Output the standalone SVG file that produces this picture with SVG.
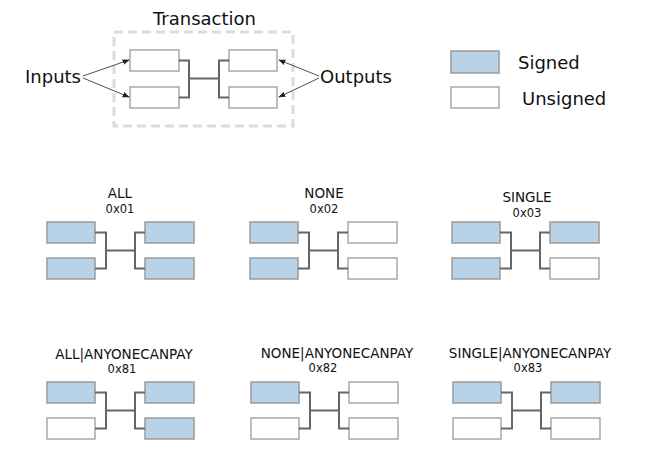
<svg xmlns="http://www.w3.org/2000/svg" width="651" height="455" viewBox="0 0 651 455">
<defs>
<style>
text{font-family:"DejaVu Sans","Verdana",sans-serif;fill:#111}
.big{font-size:18px}
.t{font-size:13.5px;text-anchor:middle}
.h{font-size:11.5px;text-anchor:middle}
.s{fill:#b8d3e8;stroke:#9a9a9a;stroke-width:1.5}
.u{fill:#fff;stroke:#a8a8a8;stroke-width:1.5}
.c{fill:none;stroke:#666;stroke-width:2}
.a{fill:none;stroke:#222;stroke-width:0.8;marker-end:url(#ah)}
</style>
<marker id="ah" viewBox="0 0 10 10" refX="9" refY="5" markerWidth="7" markerHeight="7" orient="auto" markerUnits="userSpaceOnUse">
<path d="M0,1 L10,5 L0,9 z" fill="#222"/>
</marker>
<path id="br" d="M95,232.5 H106 V268.5 H95 M106,250.5 H135 M145,232.5 H135 V268.5 H145" class="c"/>
</defs>
<rect width="651" height="455" fill="#fff"/>

<g id="transaction">
<text class="big" x="153" y="25">Transaction</text>
<rect x="114" y="32" width="179" height="94" fill="none" stroke="#dcdcdc" stroke-width="3" stroke-dasharray="9,5"/>
<rect class="u" x="130" y="50" width="49" height="21"/>
<rect class="u" x="130" y="87" width="49" height="21"/>
<rect class="u" x="229" y="50" width="48" height="21"/>
<rect class="u" x="229" y="87" width="48" height="21"/>
</g>
<g id="inputs"><text class="big" x="25" y="83">Inputs</text></g>
<g id="outputs"><text class="big" x="320" y="83">Outputs</text></g>
<g id="legend">
<rect class="s" x="451" y="51" width="48" height="22"/>
<rect class="u" x="451" y="87" width="48" height="21"/>
<text class="big" x="518" y="69">Signed</text>
<text class="big" x="522" y="105">Unsigned</text>
</g>

<g id="p-all">
<text class="t" x="120" y="198">ALL</text>
<text class="h" x="120" y="213">0x01</text>
<rect class="s" x="47" y="222" width="48" height="21"/>
<rect class="s" x="47" y="258" width="48" height="21"/>
<rect class="s" x="145" y="222" width="49" height="21"/>
<rect class="s" x="145" y="258" width="49" height="21"/>
</g>
<g id="p-none" transform="translate(203,0)">
<text class="t" x="121" y="198">NONE</text>
<text class="h" x="121" y="213">0x02</text>
<rect class="s" x="47" y="222" width="48" height="21"/>
<rect class="s" x="47" y="258" width="48" height="21"/>
<rect class="u" x="145" y="222" width="49" height="21"/>
<rect class="u" x="145" y="258" width="49" height="21"/>
</g>
<g id="p-single" transform="translate(405,0)">
<text class="t" x="122" y="202">SINGLE</text>
<text class="h" x="122" y="217">0x03</text>
<rect class="s" x="47" y="222" width="48" height="21"/>
<rect class="s" x="47" y="258" width="48" height="21"/>
<rect class="s" x="145" y="222" width="49" height="21"/>
<rect class="u" x="145" y="258" width="49" height="21"/>
</g>
<g id="p-all-acp" transform="translate(0,160)">
<text class="t" x="124" y="199">ALL|ANYONECANPAY</text>
<text class="h" x="122" y="213">0x81</text>
<rect class="s" x="47" y="222" width="48" height="21"/>
<rect class="u" x="47" y="258" width="48" height="21"/>
<rect class="s" x="145" y="222" width="49" height="21"/>
<rect class="s" x="145" y="258" width="49" height="21"/>
</g>
<g id="p-none-acp" transform="translate(204,160)">
<text class="t" x="133" y="198">NONE|ANYONECANPAY</text>
<text class="h" x="119" y="212">0x82</text>
<rect class="s" x="47" y="222" width="48" height="21"/>
<rect class="u" x="47" y="258" width="48" height="21"/>
<rect class="u" x="145" y="222" width="49" height="21"/>
<rect class="u" x="145" y="258" width="49" height="21"/>
</g>
<g id="p-single-acp" transform="translate(406,160)">
<text class="t" x="124" y="198">SINGLE|ANYONECANPAY</text>
<text class="h" x="122" y="212">0x83</text>
<rect class="s" x="47" y="222" width="48" height="21"/>
<rect class="u" x="47" y="258" width="48" height="21"/>
<rect class="s" x="145" y="222" width="49" height="21"/>
<rect class="u" x="145" y="258" width="49" height="21"/>
</g>

<g id="connectors">
<path class="c" d="M179,60.5 H189 V97.5 H179 M189,78.5 H219 M229,60.5 H219 V97.5 H229"/>
<line class="a" x1="83" y1="76" x2="129" y2="60"/>
<line class="a" x1="83" y1="78" x2="129" y2="97"/>
<line class="a" x1="319" y1="76" x2="279" y2="60"/>
<line class="a" x1="319" y1="78" x2="279" y2="97"/>
<use href="#br"/>
<use href="#br" transform="translate(203,0)"/>
<use href="#br" transform="translate(405,0)"/>
<use href="#br" transform="translate(0,160)"/>
<use href="#br" transform="translate(204,160)"/>
<use href="#br" transform="translate(406,160)"/>
</g>
</svg>
